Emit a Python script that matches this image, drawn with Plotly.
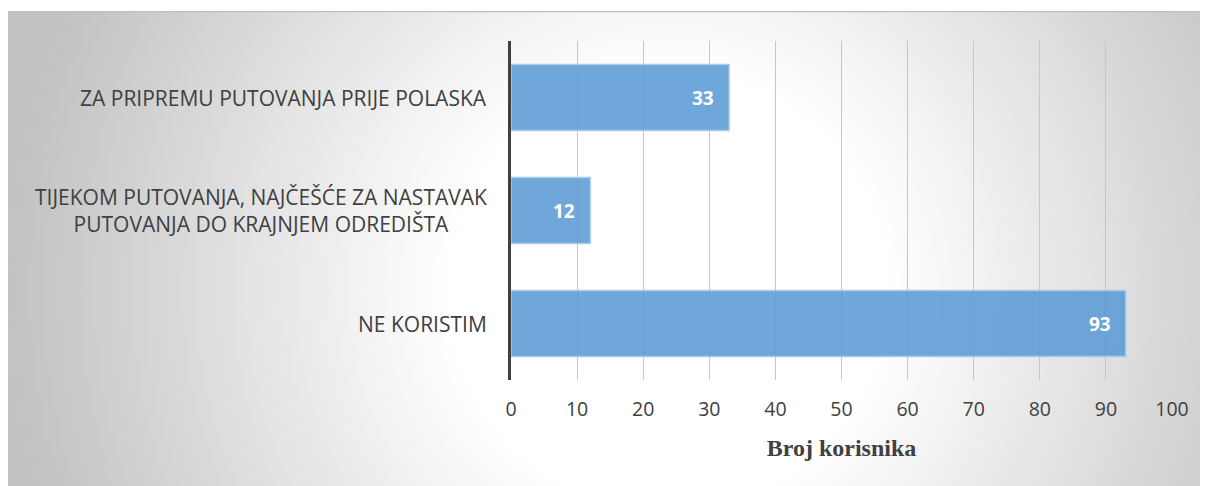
import base64
import plotly.graph_objects as go

# Data
categories = [
    "ZA PRIPREMU PUTOVANJA PRIJE POLASKA",
    "TIJEKOM PUTOVANJA, NAJČEŠĆE ZA NASTAVAK<br>PUTOVANJA DO KRAJNJEM ODREDIŠTA",
    "NE KORISTIM",
]
values = [33, 12, 93]
x_ticks = [0, 10, 20, 30, 40, 50, 60, 70, 80, 90, 100]

# page has an 8px body margin, so the figure is a bit smaller than the window
W, H = 1200, 478
ml, mr, mt, mb = 503, 36, 33, 106
pw, ph = W - ml - mr, H - mt - mb

# radial grey background as an svg image
svg = (
    '<svg xmlns="http://www.w3.org/2000/svg" width="1200" height="475" viewBox="0 0 1200 475">'
    '<defs><radialGradient id="g" gradientUnits="userSpaceOnUse" cx="660" cy="280" r="660">'
    '<stop offset="0" stop-color="#ffffff"/><stop offset="0.33" stop-color="#ffffff"/>'
    '<stop offset="1" stop-color="#c2c2c2"/></radialGradient></defs>'
    '<rect x="0" y="0" width="1200" height="475" fill="url(#g)"/>'
    '<line x1="0" y1="0.5" x2="1200" y2="0.5" stroke="#bfbfbf" stroke-width="1.5"/>'
    '</svg>'
)
bg = "data:image/svg+xml;base64," + base64.b64encode(svg.encode()).decode()

fig = go.Figure()

fig.add_trace(go.Bar(
    y=categories,
    x=values,
    orientation="h",
    marker=dict(color="rgba(91,155,213,0.88)", line=dict(color="#a9cbeb", width=1.5)),
    width=0.584,
    hoverinfo="skip",
))

# category labels (centred multi-line)
for c in categories:
    fig.add_annotation(
        x=0, xref="x", y=c, yref="y", text=c, showarrow=False,
        xanchor="right", xshift=-22, align="center",
        font=dict(family="Open Sans", size=21, color="#404040"),
    )

# value labels inside bar end
for c, v in zip(categories, values):
    fig.add_annotation(
        x=v, xref="x", y=c, yref="y", text=f"<b>{v}</b>", showarrow=False,
        xanchor="right", xshift=-13,
        font=dict(family="Open Sans", size=19, color="white"),
    )

fig.update_layout(
    width=W, height=H,
    margin=dict(l=ml, r=mr, t=mt, b=mb),
    paper_bgcolor="white",
    plot_bgcolor="rgba(0,0,0,0)",
    showlegend=False,
    images=[dict(
        source=bg, xref="paper", yref="paper",
        x=(0 - ml) / pw, y=1 + (mt - 3) / ph,
        sizex=1200 / pw, sizey=475 / ph,
        xanchor="left", yanchor="top", sizing="stretch", layer="below",
    )],
)

fig.update_xaxes(
    range=[0, 100], tickvals=x_ticks, showgrid=True, gridcolor="#c6c6c6", gridwidth=1,
    zeroline=False, showline=False,
    ticks="outside", ticklen=12, tickcolor="rgba(0,0,0,0)",
    tickfont=dict(family="Open Sans", size=19.5, color="#404040"),
    title=dict(text="<b>Broj korisnika</b>", standoff=17,
               font=dict(family="Liberation Serif", size=24, color="#404040")),
)

fig.update_yaxes(
    categoryorder="array", categoryarray=categories, autorange="reversed",
    showticklabels=False, showgrid=False, zeroline=False,
    showline=True, linecolor="#404040", linewidth=3,
)

fig.write_html("out.html")
